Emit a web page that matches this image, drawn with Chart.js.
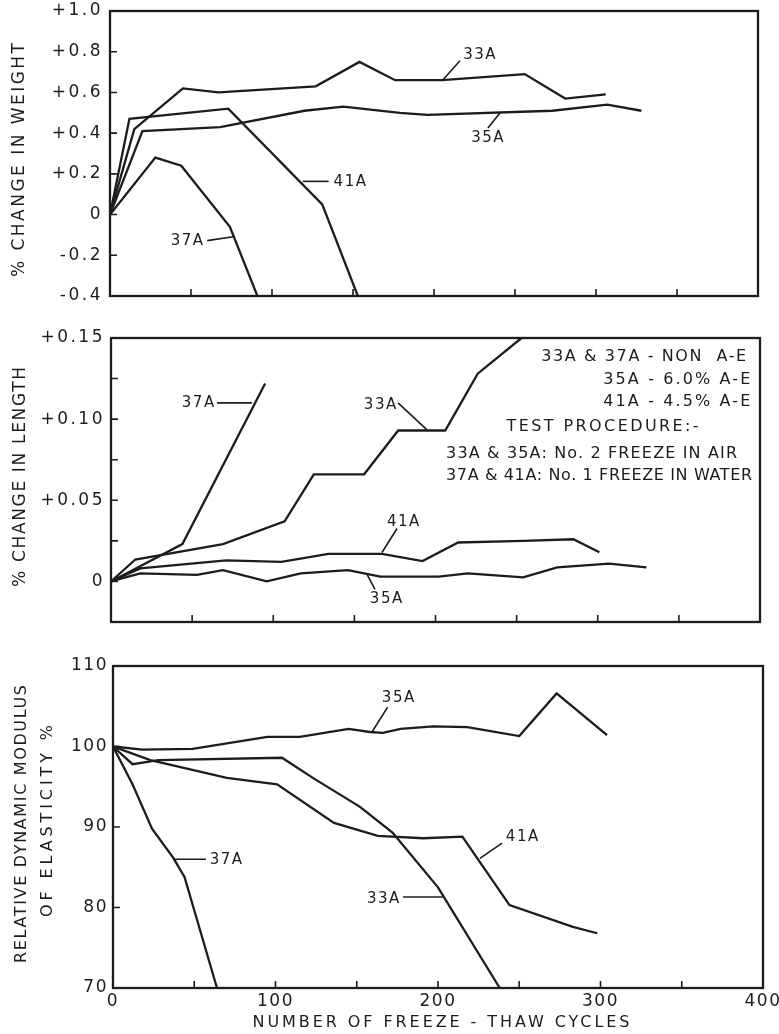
<!DOCTYPE html>
<html><head><meta charset="utf-8">
<script src="https://cdn.jsdelivr.net/npm/chart.js@4/dist/chart.umd.min.js"></script>
<style>
html,body{margin:0;padding:0;background:#fff;}
#wrap{position:relative;width:779px;height:1034px;overflow:hidden;}
canvas{position:absolute;left:0;}
</style></head><body>
<div id="wrap">
<canvas id="c1" width="779" height="310" style="top:0px"></canvas>
<canvas id="c2" width="779" height="320" style="top:310px"></canvas>
<canvas id="c3" width="779" height="404" style="top:630px"></canvas>
</div>
<script>
// ---------- tick values / labels ----------
const cycleTicks = [0, 50, 100, 150, 200, 250, 300, 350, 400];
const cycleTickLabels = ['0', '', '100', '', '200', '', '300', '', '400'];

const weightTicks = [-0.4, -0.2, 0, 0.2, 0.4, 0.6, 0.8, 1.0];
const weightTickLabels = ['-0.4', '-0.2', '0', '+0.2', '+0.4', '+0.6', '+0.8', '+1.0'];

const lengthTicks = [-0.025, 0, 0.025, 0.05, 0.075, 0.1, 0.125, 0.15];
const lengthTickLabels = ['', '0', '', '+0.05', '', '+0.10', '', '+0.15'];

const modulusTicks = [70, 80, 90, 100, 110];
const modulusTickLabels = ['70', '80', '90', '100', '110'];

// ---------- % change in weight ----------
const weight33A_cycles = [0, 15, 45, 67, 127, 154, 176, 205, 256, 281, 306];
const weight33A_values = [0, 0.42, 0.62, 0.60, 0.63, 0.75, 0.66, 0.66, 0.69, 0.57, 0.59];
const weight35A_cycles = [0, 20, 68, 120, 144, 179, 196, 273, 307, 328];
const weight35A_values = [0, 0.41, 0.43, 0.51, 0.53, 0.50, 0.49, 0.51, 0.54, 0.51];
const weight37A_cycles = [0, 28, 44, 74, 91];
const weight37A_values = [0, 0.28, 0.24, -0.06, -0.40];
const weight41A_cycles = [0, 12, 73, 131, 153];
const weight41A_values = [0, 0.47, 0.52, 0.05, -0.40];

// ---------- % change in length ----------
const length33A_cycles = [0, 15, 69, 107, 125, 156, 177, 206, 226, 253];
const length33A_values = [0, 0.0135, 0.023, 0.037, 0.066, 0.066, 0.093, 0.093, 0.128, 0.15];
const length35A_cycles = [0, 18, 53, 69, 96, 117, 146, 166, 202, 220, 254, 275, 307, 330];
const length35A_values = [0, 0.005, 0.004, 0.007, 0, 0.005, 0.007, 0.003, 0.003, 0.005, 0.0025, 0.0087, 0.011, 0.0087];
const length37A_cycles = [0, 44, 95];
const length37A_values = [0, 0.023, 0.122];
const length41A_cycles = [0, 18, 71, 105, 134, 167, 192, 214, 254, 285, 301];
const length41A_values = [0, 0.008, 0.013, 0.012, 0.017, 0.017, 0.0125, 0.024, 0.025, 0.026, 0.018];

// ---------- relative dynamic modulus ----------
const modulus33A_cycles = [0, 12, 28, 104, 123, 152, 172, 200, 238];
const modulus33A_values = [100, 97.8, 98.3, 98.6, 96.1, 92.5, 89.3, 82.5, 70];
const modulus35A_cycles = [0, 18, 49, 95, 115, 145, 158, 166, 177, 197, 218, 250, 273, 304];
const modulus35A_values = [100, 99.6, 99.7, 101.2, 101.2, 102.2, 101.8, 101.7, 102.2, 102.5, 102.4, 101.3, 106.6, 101.4];
const modulus37A_cycles = [0, 12, 24, 37, 44, 64];
const modulus37A_values = [100, 95.3, 89.8, 86.2, 83.8, 70];
const modulus41A_cycles = [0, 23, 70, 101, 136, 163, 191, 215, 244, 283, 298];
const modulus41A_values = [100, 98.3, 96.1, 95.3, 90.5, 88.9, 88.6, 88.8, 80.3, 77.6, 76.8];

// ---------- drawing ----------
const INK = '#1c1c1c';
const FONT = '"DejaVu Sans"';
Chart.defaults.font.family = FONT;
Chart.defaults.color = INK;

function pts(xs, ys) { return xs.map((x, i) => ({ x: x, y: ys[i] })); }
function ds(label, xs, ys) {
  return { label: label, data: pts(xs, ys), borderColor: INK, borderWidth: 2.3, pointRadius: 0, tension: 0, fill: false };
}

function drawText(ctx, text, x, y, o) {
  ctx.save();
  ctx.font = (o.size || 15) + 'px ' + FONT;
  ctx.fillStyle = INK;
  ctx.letterSpacing = '0px';
  const w0 = ctx.measureText(text).width;
  const n = text.length;
  const sp = o.width ? (o.width - w0) / (n - 1) : (o.sp || 0);
  ctx.letterSpacing = sp + 'px';
  const w = w0 + sp * (n - 1);
  ctx.translate(x, y);
  if (o.rot) ctx.rotate(o.rot);
  ctx.textAlign = 'left';
  ctx.textBaseline = 'middle';
  const dx = o.align === 'right' ? -w : (o.align === 'left' ? 0 : -w / 2);
  ctx.fillText(text, dx, 0);
  ctx.restore();
}

const decor = {
  id: 'decor',
  beforeDraw(chart, args, o) { chart.ctx.letterSpacing = (o.tickSpacing || 0) + 'px'; },
  afterDraw(chart, args, o) {
    const ctx = chart.ctx, a = chart.chartArea, xs = chart.scales.x, ys = chart.scales.y;
    ctx.save();
    ctx.letterSpacing = '0px';
    ctx.strokeStyle = INK;
    ctx.lineWidth = 2.3;
    ctx.strokeRect(a.left, a.top, a.right - a.left, a.bottom - a.top);
    ctx.lineWidth = 1.6;
    ctx.beginPath();
    xs.ticks.forEach(t => {
      if (t.value > xs.min && t.value < xs.max) {
        const x = xs.getPixelForValue(t.value);
        ctx.moveTo(x, a.bottom); ctx.lineTo(x, a.bottom - 7);
      }
    });
    ys.ticks.forEach(t => {
      if (t.value > ys.min && t.value < ys.max) {
        const y = ys.getPixelForValue(t.value);
        ctx.moveTo(a.left, y); ctx.lineTo(a.left + 7, y);
      }
    });
    ctx.stroke();
    (o.leaders || []).forEach(l => {
      ctx.beginPath();
      ctx.moveTo(xs.getPixelForValue(l[0]), ys.getPixelForValue(l[1]));
      ctx.lineTo(xs.getPixelForValue(l[2]), ys.getPixelForValue(l[3]));
      ctx.stroke();
    });
    (o.labels || []).forEach(l => drawText(ctx, l.t, xs.getPixelForValue(l.x), ys.getPixelForValue(l.y), l));
    (o.titles || []).forEach(t => drawText(ctx, t.t, t.px, t.py, t));
    ctx.restore();
  }
};

function makeChart(id, datasets, cfg) {
  return new Chart(document.getElementById(id), {
    type: 'line',
    data: { datasets: datasets },
    plugins: [decor],
    options: {
      responsive: false,
      animation: false,
      events: [],
      layout: { padding: { top: cfg.top, right: cfg.right, left: 0, bottom: 0 } },
      plugins: {
        legend: { display: false },
        tooltip: { enabled: false },
        decor: cfg.decor
      },
      scales: {
        x: {
          type: 'linear', min: 0, max: 400,
          grid: { display: false, drawTicks: false },
          border: { display: false },
          afterBuildTicks(s) { s.ticks = cycleTicks.map(v => ({ value: v })); },
          afterFit(s) { s.height = cfg.xh; s.paddingLeft = 0; s.paddingRight = 0; },
          ticks: {
            display: !!cfg.xLabels, autoSkip: false, maxRotation: 0, minRotation: 0, padding: 3,
            font: { size: 17 }, color: INK,
            callback: (v, i) => cycleTickLabels[i]
          }
        },
        y: {
          type: 'linear', min: cfg.yMin, max: cfg.yMax,
          grid: { display: false, drawTicks: false },
          border: { display: false },
          afterBuildTicks(s) { s.ticks = cfg.yTicks.map(v => ({ value: v })); },
          afterFit(s) { s.width = cfg.yw; s.paddingTop = 0; s.paddingBottom = 0; },
          ticks: {
            autoSkip: false, padding: cfg.yPad,
            font: { size: cfg.yFont || 17 }, color: INK,
            callback: (v, i) => cfg.yLabels[i]
          }
        }
      }
    }
  });
}

// Panel 1: weight
makeChart('c1', [
  ds('33A', weight33A_cycles, weight33A_values),
  ds('35A', weight35A_cycles, weight35A_values),
  ds('37A', weight37A_cycles, weight37A_values),
  ds('41A', weight41A_cycles, weight41A_values)
], {
  top: 11, right: 21, xh: 14, yw: 110, yMin: -0.4, yMax: 1.0,
  yTicks: weightTicks, yLabels: weightTickLabels, yPad: 7,
  decor: {
    tickSpacing: 2.5,
    leaders: [[216, 0.756, 205, 0.657], [233.3, 0.425, 240.7, 0.499], [119, 0.163, 135, 0.163], [60, -0.128, 76, -0.109]],
    labels: [
      { t: '33A', x: 228, y: 0.785, sp: 1.5 },
      { t: '35A', x: 233, y: 0.375, sp: 1.5 },
      { t: '41A', x: 148, y: 0.158, sp: 1.5 },
      { t: '37A', x: 47.5, y: -0.128, sp: 1.5 }
    ],
    titles: [{ t: '% CHANGE IN WEIGHT', px: 20, py: 160, width: 234, size: 17, rot: -Math.PI / 2 }]
  }
});

// Panel 2: length
makeChart('c2', [
  ds('33A', length33A_cycles, length33A_values),
  ds('35A', length35A_cycles, length35A_values),
  ds('37A', length37A_cycles, length37A_values),
  ds('41A', length41A_cycles, length41A_values)
], {
  top: 28, right: 19, xh: 8, yw: 111, yMin: -0.025, yMax: 0.15,
  yTicks: lengthTicks, yLabels: lengthTickLabels, yPad: 6,
  decor: {
    tickSpacing: 2.5,
    leaders: [[65.3, 0.110, 86.9, 0.110], [176.9, 0.110, 194.8, 0.0934], [176.3, 0.0326, 167, 0.0178], [157.8, 0.0043, 162.7, -0.0049]],
    labels: [
      { t: '37A', x: 53.6, y: 0.110, sp: 1.5 },
      { t: '33A', x: 165.8, y: 0.1088, sp: 1.5 },
      { t: '41A', x: 180, y: 0.0363, sp: 1.5 },
      { t: '35A', x: 169.5, y: -0.011, sp: 1.5 },
      { t: '33A & 37A - NON  A-E', x: 391.5, y: 0.1383, width: 205, size: 16, align: 'right' },
      { t: '35A - 6.0% A-E', x: 394, y: 0.1242, width: 147, size: 16, align: 'right' },
      { t: '41A - 4.5% A-E', x: 394, y: 0.1106, width: 147, size: 16, align: 'right' },
      { t: 'TEST PROCEDURE:-', x: 303, y: 0.0953, width: 192, size: 16 },
      { t: '33A & 35A: No. 2 FREEZE IN AIR', x: 206.5, y: 0.0787, width: 291, size: 16, align: 'left' },
      { t: '37A & 41A: No. 1 FREEZE IN WATER', x: 206.5, y: 0.0651, width: 306, size: 16, align: 'left' }
    ],
    titles: [{ t: '% CHANGE IN LENGTH', px: 21, py: 167, width: 220, size: 17, rot: -Math.PI / 2 }]
  }
});

// Panel 3: relative dynamic modulus
makeChart('c3', [
  ds('33A', modulus33A_cycles, modulus33A_values),
  ds('35A', modulus35A_cycles, modulus35A_values),
  ds('37A', modulus37A_cycles, modulus37A_values),
  ds('41A', modulus41A_cycles, modulus41A_values)
], {
  top: 36, right: 16, xh: 46, yw: 113, yMin: 70, yMax: 110, xLabels: true,
  yTicks: modulusTicks, yLabels: modulusTickLabels, yPad: 5,
  decor: {
    tickSpacing: 1.5,
    leaders: [[169, 104.9, 159.4, 101.8], [36.9, 86.0, 57.2, 86.0], [239.4, 88.0, 225.8, 86.1], [178.5, 81.3, 203, 81.3]],
    labels: [
      { t: '35A', x: 175.4, y: 106.0, sp: 1.5 },
      { t: '37A', x: 69.5, y: 85.9, sp: 1.5 },
      { t: '41A', x: 251.7, y: 88.8, sp: 1.5 },
      { t: '33A', x: 166.2, y: 81.1, sp: 1.5 }
    ],
    titles: [
      { t: 'RELATIVE DYNAMIC MODULUS', px: 22, py: 194, width: 278, size: 16, rot: -Math.PI / 2 },
      { t: 'OF ELASTICITY %', px: 48, py: 191, width: 192, size: 16, rot: -Math.PI / 2 },
      { t: 'NUMBER OF FREEZE - THAW CYCLES', px: 441, py: 393, width: 377, size: 16 }
    ]
  }
});
</script>
</body></html>
